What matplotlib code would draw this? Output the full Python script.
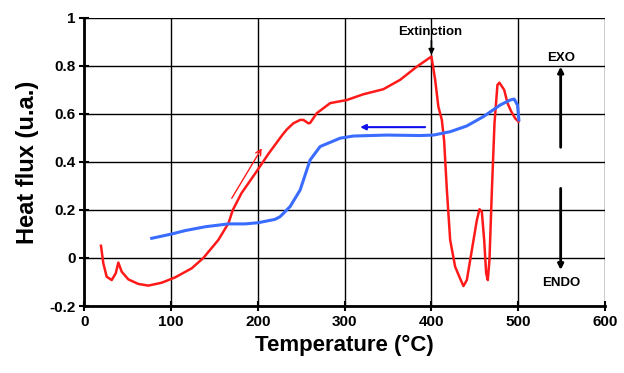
import matplotlib
matplotlib.use("Agg")
import matplotlib.pyplot as plt
from matplotlib.ticker import FuncFormatter

plt.rcParams['font.family'] = ['Liberation Sans', 'DejaVu Sans']
plt.rcParams['font.weight'] = 'bold'

# heating curve (red)
red_T = [19.0, 21.7, 25.6, 31.4, 36, 39, 42.9, 50.5, 62, 73.6, 89, 104.4, 123.6,
         137, 154.3, 166, 171, 181, 197, 212.5, 228, 233.2, 240.8, 248.6, 252.4,
         258.1, 260, 267.8, 283.2, 302.4, 321.6, 344.6, 363.9, 383.2, 400,
         404.3, 408, 412, 414.6, 417.8, 421.6, 427.3, 433, 436.9, 440.8, 446.6,
         452.4, 455.4, 458.1, 460.8, 463.1, 465, 466.9, 469.7, 472.7, 476.1,
         478.4, 483.9, 487.7, 492, 496.5, 500.3]
red_q = [0.051, -0.022, -0.078, -0.092, -0.064, -0.019, -0.057, -0.089, -0.108,
         -0.115, -0.103, -0.081, -0.043, 0.0, 0.075, 0.145, 0.2, 0.27, 0.353,
         0.436, 0.512, 0.535, 0.561, 0.575, 0.575, 0.561, 0.562, 0.603, 0.645,
         0.658, 0.682, 0.703, 0.742, 0.797, 0.839, 0.742, 0.63, 0.575, 0.49,
         0.283, 0.075, -0.036, -0.085, -0.117, -0.092, 0.033, 0.158, 0.203,
         0.193, 0.075, -0.064, -0.092, -0.008, 0.283, 0.561, 0.721, 0.73, 0.70,
         0.645, 0.61, 0.582, 0.568]

# cooling curve (blue)
blue_T = [77.5, 100.6, 115.9, 139, 165.9, 185.1, 200.5, 219.7, 225.5, 237, 248.6,
          260.1, 271.6, 294.7, 310, 348.6, 387, 402.3, 421.6, 440.8, 460, 479.2,
          490.8, 495.4, 499.2, 500.8]
blue_q = [0.082, 0.1, 0.114, 0.13, 0.142, 0.142, 0.147, 0.161, 0.172, 0.214, 0.283,
          0.408, 0.464, 0.499, 0.508, 0.512, 0.51, 0.512, 0.526, 0.55, 0.589, 0.637,
          0.658, 0.662, 0.637, 0.575]

fig = plt.figure(figsize=(6.24, 3.73), dpi=100)
ax = fig.add_axes([0.1354, 0.1796, 0.834, 0.7724])

ax.plot(red_T, red_q, color='#ff1a1a', lw=1.8, zorder=3)
ax.plot(blue_T, blue_q, color='#3a6cff', lw=2.2, zorder=3)

# direction arrows
ax.annotate('', xy=(204.4, 0.457), xytext=(169.8, 0.249),
            arrowprops=dict(arrowstyle='->', color='#ff1a1a', lw=1.0,
                            shrinkA=0, shrinkB=0))
ax.annotate('', xy=(317.8, 0.545), xytext=(392.7, 0.545),
            arrowprops=dict(arrowstyle='-|>', color='#1010ee', lw=1.5, mutation_scale=8,
                            shrinkA=0, shrinkB=0))

ax.text(398.5, 0.942, 'Extinction', ha='center', va='center', fontsize=9.5,
        fontweight='bold', zorder=4)
ax.annotate('', xy=(400, 0.846), xytext=(400, 0.905),
            arrowprops=dict(arrowstyle='-|>', color='black', lw=1.2, mutation_scale=8,
                            shrinkA=0, shrinkB=0))
ax.annotate('', xy=(549, 0.797), xytext=(549, 0.461),
            arrowprops=dict(arrowstyle='-|>', color='black', lw=2, mutation_scale=8,
                            shrinkA=0, shrinkB=0))
ax.text(549.5, 0.832, 'EXO', ha='center', va='center', fontsize=9.5, fontweight='bold')
ax.annotate('', xy=(549, -0.05), xytext=(549, 0.29),
            arrowprops=dict(arrowstyle='-|>', color='black', lw=2, mutation_scale=8,
                            shrinkA=0, shrinkB=0))
ax.text(549.5, -0.105, 'ENDO', ha='center', va='center', fontsize=9.5, fontweight='bold')

ax.set_xlim(0, 600)
ax.set_ylim(-0.2, 1.0)
ax.set_xticks(range(0, 601, 100))
ax.set_yticks([-0.2, 0, 0.2, 0.4, 0.6, 0.8, 1.0])
ax.yaxis.set_major_formatter(FuncFormatter(lambda v, p: '%g' % round(v, 1)))
ax.grid(True, color='black', lw=1)
ax.tick_params(direction='inout', length=7, width=1.5, labelsize=11, pad=3)
for lab in ax.get_xticklabels() + ax.get_yticklabels():
    lab.set_fontweight('bold')
for s in ['top', 'right']:
    ax.spines[s].set_visible(False)
for s in ['left', 'bottom']:
    ax.spines[s].set_linewidth(2)

ax.set_xlabel('Temperature (°C)', fontsize=16, fontweight='bold', labelpad=4)
ax.set_ylabel('Heat flux (u.a.)', fontsize=17, fontweight='bold', labelpad=7)

fig.savefig('out.png', dpi=100)
